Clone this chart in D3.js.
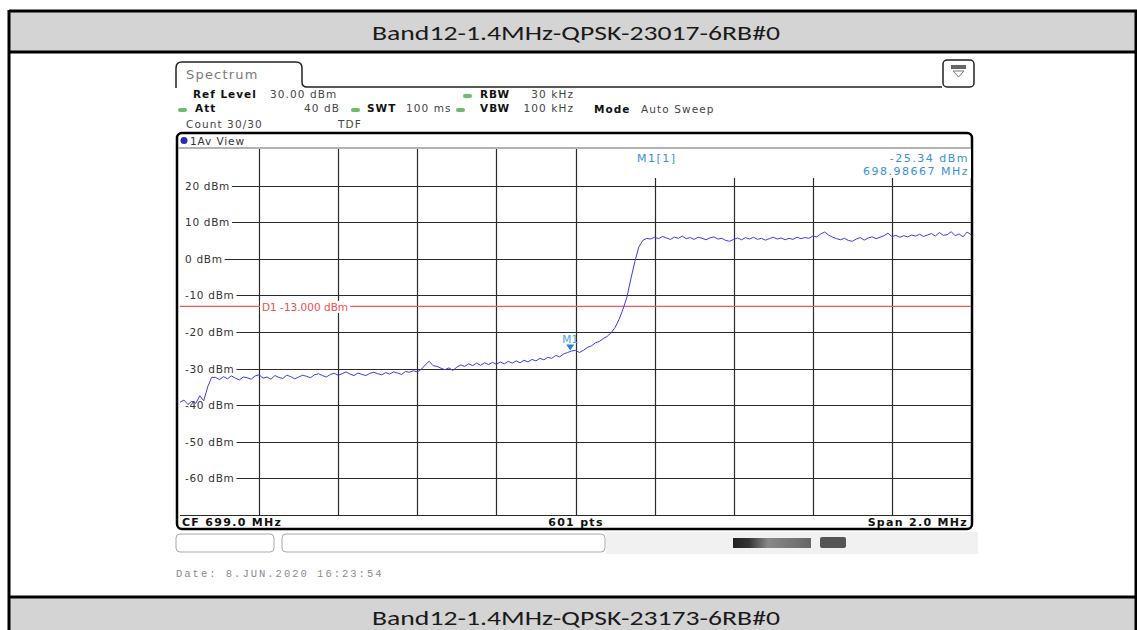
<!DOCTYPE html>
<html>
<head>
<meta charset="utf-8">
<script src="https://cdn.jsdelivr.net/npm/d3@7"></script>
<style>
  body { margin: 0; background: #fff; }
  text { font-family: "DejaVu Sans", Verdana, sans-serif; }
</style>
</head>
<body>
<div id="plot"></div>
<script>
// page size
var width = 1137;
var height = 630;

// titles of the report table
var titleTop = "Band12-1.4MHz-QPSK-23017-6RB#0";
var titleBottom = "Band12-1.4MHz-QPSK-23173-6RB#0";

// analyzer settings
var centerFreq = 699.0;   // MHz
var spanFreq = 2.0;       // MHz
var refLevel = 30;        // dBm at top of grid
var levelRange = 100;     // dB shown on screen
var levelTicks = [20, 10, 0, -10, -20, -30, -40, -50, -60];
var displayLine = -13;
var markerFreq = 698.98667;
var markerLevel = -25.34;

// trace, 201 points across the span (dBm)
var traceLevels = [
  -39.2, -38.6, -39.8, -38.9, -39.5, -37.4, -38.8, -35.0, -32.4,
  -32.4, -33.0, -32.2, -32.8, -32.0, -32.6, -33.1, -32.3, -32.5, -32.9,
  -32.0, -31.7, -32.6, -32.3, -32.9, -31.9, -32.4, -32.7, -31.8, -32.2,
  -32.8, -32.3, -31.8, -32.1, -32.5, -31.7, -31.4, -31.9, -32.3, -31.6,
  -31.3, -31.8, -31.4, -30.9, -31.5, -31.9, -31.2, -31.6, -31.9, -31.3,
  -31.0, -31.4, -31.7, -31.1, -31.5, -30.9, -31.2, -31.6, -30.8, -31.0,
  -30.6, -30.9,
  -30.2, -29.0, -28.0, -29.2,
  -29.4, -29.9, -30.3, -29.8, -30.5, -29.6, -29.0, -29.4, -28.7, -29.2,
  -28.5, -29.1, -28.4, -28.9, -28.3, -28.8, -28.2, -28.7, -28.0, -28.5,
  -27.9, -28.4, -27.7, -28.2, -27.5, -27.9,
  -27.2, -27.6, -26.9, -27.2, -26.4, -26.8, -26.0, -25.6, -25.2,
  -25.0, -25.6, -25.0, -24.2, -23.8, -23.0, -22.6, -21.8, -21.2, -20.2,
  -18.8, -16.6, -13.8, -10.5, -5.5, -0.8, 3.2, 5.0, 5.6,
  5.4, 5.9, 5.5, 6.1, 5.7, 5.3, 5.9, 5.6, 6.2, 5.5,
  5.8, 5.3, 5.9, 5.6, 5.2, 5.7, 6.0, 5.4, 5.6, 5.0,
  4.8, 5.3, 5.7, 5.2, 5.8, 5.4, 5.9, 5.3, 5.6, 5.1,
  5.5, 5.9, 5.4, 5.7, 5.2, 5.6, 5.3, 5.9, 5.5, 5.8,
  5.6, 6.2, 6.0, 6.8, 7.3, 6.5, 5.9, 5.5, 5.2, 5.6,
  5.0, 4.8, 5.4, 5.8, 5.1, 5.7, 6.0, 5.5, 5.9, 6.3,
  7.0, 6.1, 6.4, 5.9, 6.3, 6.0, 6.5, 6.2, 6.7, 6.1,
  6.5, 6.9, 6.2, 7.2, 6.4, 6.6, 7.4, 6.3, 6.8, 6.0,
  7.3, 6.6
];

// grid box of the analyzer screen
var gx0 = 180, gx1 = 971, gy0 = 149, gy1 = 515;

var svg = d3.select("#plot")
    .append("svg")
    .attr("width", width)
    .attr("height", height);

// ---- report table frame ----
svg.append("rect").attr("x", 9).attr("y", 11).attr("width", 1130).attr("height", 41).attr("fill", "#d4d4d4");
svg.append("rect").attr("x", 9).attr("y", 597).attr("width", 1130).attr("height", 40).attr("fill", "#d4d4d4");
var border = [[9, 11, 1137, 11], [9, 52, 1137, 52], [9, 597, 1137, 597], [9, 10, 9, 630], [1136, 10, 1136, 630]];
svg.selectAll("line.border")
    .data(border)
    .enter()
    .append("line")
    .attr("x1", d => d[0]).attr("y1", d => d[1])
    .attr("x2", d => d[2]).attr("y2", d => d[3])
    .attr("stroke", "#000")
    .attr("stroke-width", 3);

svg.selectAll("text.title")
    .data([[titleTop, 40], [titleBottom, 625]])
    .enter()
    .append("text")
    .attr("x", 576)
    .attr("y", d => d[1])
    .attr("text-anchor", "middle")
    .attr("textLength", 408)
    .attr("lengthAdjust", "spacingAndGlyphs")
    .style("font-family", "Carlito, 'Liberation Sans Narrow', 'Open Sans', sans-serif")
    .style("font-size", "20px")
    .style("fill", "#1a1a1a")
    .text(d => d[0]);

// ---- analyzer header ----
svg.append("path")
    .attr("d", "M176,88 L176,68 Q176,62 182,62 L296,62 Q302,62 302,68 L302,82 Q302,87 307,87 L942,87")
    .attr("fill", "none")
    .attr("stroke", "#222")
    .attr("stroke-width", 1.5);
svg.append("text").attr("x", 186).attr("y", 79).style("font-size", "13px").style("fill", "#7a7a7a")
    .style("letter-spacing", "1.2px").text("Spectrum");

// menu icon top right
svg.append("rect").attr("x", 943).attr("y", 60).attr("width", 31).attr("height", 27).attr("rx", 4)
    .attr("fill", "#fff").attr("stroke", "#222").attr("stroke-width", 1.5);
svg.append("rect").attr("x", 951).attr("y", 65).attr("width", 15).attr("height", 4).attr("fill", "#666");
svg.append("path").attr("d", "M953,71 L964,71 L958.5,77 Z").attr("fill", "none").attr("stroke", "#777");

var headerItems = [
  {x: 193, y: 98, t: "Ref Level", b: true},
  {x: 270, y: 98, t: "30.00 dBm"},
  {x: 480, y: 98, t: "RBW", b: true},
  {x: 574, y: 98, t: "30 kHz", end: true},
  {x: 195, y: 112, t: "Att", b: true},
  {x: 340, y: 112, t: "40 dB", end: true},
  {x: 367, y: 112, t: "SWT", b: true},
  {x: 406, y: 112, t: "100 ms"},
  {x: 480, y: 112, t: "VBW", b: true},
  {x: 574, y: 112, t: "100 kHz", end: true},
  {x: 594, y: 113, t: "Mode", b: true},
  {x: 641, y: 113, t: "Auto Sweep"},
  {x: 186, y: 128, t: "Count 30/30"},
  {x: 338, y: 128, t: "TDF"}
];
svg.selectAll("text.hdr")
    .data(headerItems)
    .enter()
    .append("text")
    .attr("x", d => d.x)
    .attr("y", d => d.y)
    .attr("text-anchor", d => d.end ? "end" : "start")
    .style("font-size", d => d.b ? "10.5px" : "10.5px")
    .style("letter-spacing", d => d.b ? "1px" : "1.1px")
    .style("font-weight", d => d.b ? "bold" : "normal")
    .style("fill", d => d.b ? "#111" : "#444")
    .text(d => d.t);

// green status dots
svg.selectAll("rect.dot")
    .data([[463, 94], [178, 108], [351, 108], [456, 108]])
    .enter()
    .append("rect")
    .attr("x", d => d[0]).attr("y", d => d[1])
    .attr("width", 9).attr("height", 4).attr("rx", 2)
    .attr("fill", "#6dbb6d");

// ---- screen frame ----
svg.append("rect")
    .attr("x", 177).attr("y", 133).attr("width", 795).attr("height", 396).attr("rx", 5)
    .attr("fill", "#fff").attr("stroke", "#000").attr("stroke-width", 2.5);
svg.append("circle").attr("cx", 184).attr("cy", 140.5).attr("r", 3.5).attr("fill", "#2a2ab0");
svg.append("text").attr("x", 190).attr("y", 145).style("font-size", "10.5px").style("letter-spacing", "0.9px")
    .style("fill", "#333").text("1Av View");
svg.append("line").attr("x1", 178).attr("x2", 971).attr("y1", 148).attr("y2", 148)
    .attr("stroke", "#9a9a9a").attr("stroke-width", 1.5);

// scales
var x = d3.scaleLinear()
    .domain([centerFreq - spanFreq / 2, centerFreq + spanFreq / 2])
    .range([gx0, gx1]);
var y = d3.scaleLinear()
    .domain([refLevel - levelRange, refLevel])
    .range([gy1, gy0]);

// grid
var grid = svg.append("g");
grid.selectAll("line.v")
    .data(d3.range(1, 10).map(k => x.domain()[0] + k * spanFreq / 10))
    .enter()
    .append("line")
    .attr("x1", d => Math.round(x(d)) + 0.5).attr("x2", d => Math.round(x(d)) + 0.5)
    .attr("y1", gy0).attr("y2", gy1)
    .attr("stroke", "#2a2a2a").attr("stroke-width", 1.2);
grid.selectAll("line.h")
    .data(levelTicks.concat([refLevel - levelRange]))
    .enter()
    .append("line")
    .attr("x1", gx0).attr("x2", gx1)
    .attr("y1", d => Math.round(y(d)) + 0.5).attr("y2", d => Math.round(y(d)) + 0.5)
    .attr("stroke", "#2a2a2a").attr("stroke-width", 1.2);

// white box behind marker readout
svg.append("rect").attr("x", 598).attr("y", 149).attr("width", 373).attr("height", 29).attr("fill", "#fff");

// labels with white background
function labelWithBg(parent, xp, yp, txt, color, spacing, bgLeft) {
    var g = parent.append("g");
    var bg = g.append("rect").attr("fill", "#fff");
    var t = g.append("text")
        .attr("x", xp).attr("y", yp)
        .style("font-size", "10.5px")
        .style("letter-spacing", spacing)
        .style("fill", color)
        .text(txt);
    var b = t.node().getBBox();
    var left = bgLeft !== undefined ? bgLeft : b.x - 2;
    bg.attr("x", left).attr("y", b.y).attr("width", b.x + b.width + 2 - left).attr("height", b.height);
    return t;
}
levelTicks.forEach(function(d) {
    labelWithBg(svg, 185, y(d) + 4, d + " dBm", "#333", "0.7px", gx0);
});

// display line D1
svg.append("line")
    .attr("x1", gx0).attr("x2", gx1)
    .attr("y1", y(displayLine)).attr("y2", y(displayLine))
    .attr("stroke", "#f25a5a").attr("stroke-width", 1.2);
labelWithBg(svg, 262, y(displayLine) + 4.5, "D1 -13.000 dBm", "#f05050", "0px");

// trace
var line = d3.line()
    .x((d, i) => x(x.domain()[0] + i * spanFreq / (traceLevels.length - 1)))
    .y(d => y(d));
svg.append("path")
    .datum(traceLevels)
    .attr("d", line)
    .attr("fill", "none")
    .attr("stroke", "#3b3bf2")
    .attr("stroke-width", 1);

// marker M1
var mx = x(markerFreq), my = y(markerLevel);
svg.append("path")
    .attr("d", `M${mx - 4},${my - 7} L${mx + 4},${my - 7} L${mx},${my - 1} Z`)
    .attr("fill", "#2f80d0");
svg.append("text").attr("x", mx).attr("y", my - 9).attr("text-anchor", "middle")
    .style("font-size", "10.5px").style("fill", "#4aa3dc").text("M1");

// marker readout
var readout = [
  {x: 637, y: 162, t: "M1[1]", a: "start"},
  {x: 969, y: 162, t: markerLevel.toFixed(2) + " dBm", a: "end"},
  {x: 969, y: 175, t: markerFreq.toFixed(5) + " MHz", a: "end"}
];
svg.selectAll("text.ro")
    .data(readout)
    .enter()
    .append("text")
    .attr("x", d => d.x).attr("y", d => d.y)
    .attr("text-anchor", d => d.a)
    .style("font-size", "11px")
    .style("letter-spacing", "1.5px")
    .style("fill", "#3a8fd6")
    .text(d => d.t);

// bottom info bar
var footer = [
  {x: 182, t: "CF " + centerFreq.toFixed(1) + " MHz", a: "start"},
  {x: 576, t: traceLevels.length * 3 - 2 + " pts", a: "middle"},
  {x: 968, t: "Span " + spanFreq.toFixed(1) + " MHz", a: "end"}
];
svg.selectAll("text.ft")
    .data(footer)
    .enter()
    .append("text")
    .attr("x", d => d.x).attr("y", 526)
    .attr("text-anchor", d => d.a)
    .style("font-size", "11px")
    .style("font-weight", "bold")
    .style("letter-spacing", "1.3px")
    .style("fill", "#111")
    .text(d => d.t);

// ---- softkey strip under the screen ----
svg.append("rect").attr("x", 606).attr("y", 532).attr("width", 372).attr("height", 22).attr("fill", "#f1f1f1");
svg.append("rect").attr("x", 176).attr("y", 534).attr("width", 98).attr("height", 18).attr("rx", 4)
    .attr("fill", "#fff").attr("stroke", "#aaa");
svg.append("rect").attr("x", 282).attr("y", 534).attr("width", 323).attr("height", 18).attr("rx", 4)
    .attr("fill", "#fff").attr("stroke", "#aaa");
var grad = svg.append("defs").append("linearGradient").attr("id", "blob");
grad.append("stop").attr("offset", "0%").attr("stop-color", "#222");
grad.append("stop").attr("offset", "20%").attr("stop-color", "#333");
grad.append("stop").attr("offset", "45%").attr("stop-color", "#888");
grad.append("stop").attr("offset", "100%").attr("stop-color", "#666");
svg.append("rect").attr("x", 733).attr("y", 538).attr("width", 78).attr("height", 10).attr("fill", "url(#blob)");
svg.append("rect").attr("x", 820).attr("y", 537).attr("width", 26).attr("height", 11).attr("fill", "#555").attr("rx", 2);

// timestamp
svg.append("text")
    .attr("x", 176).attr("y", 577)
    .style("font-family", "'Liberation Mono', 'DejaVu Sans Mono', monospace")
    .style("font-size", "10.5px")
    .style("letter-spacing", "2px")
    .style("fill", "#8a8a8a")
    .text("Date: 8.JUN.2020  16:23:54");
</script>
</body>
</html>
